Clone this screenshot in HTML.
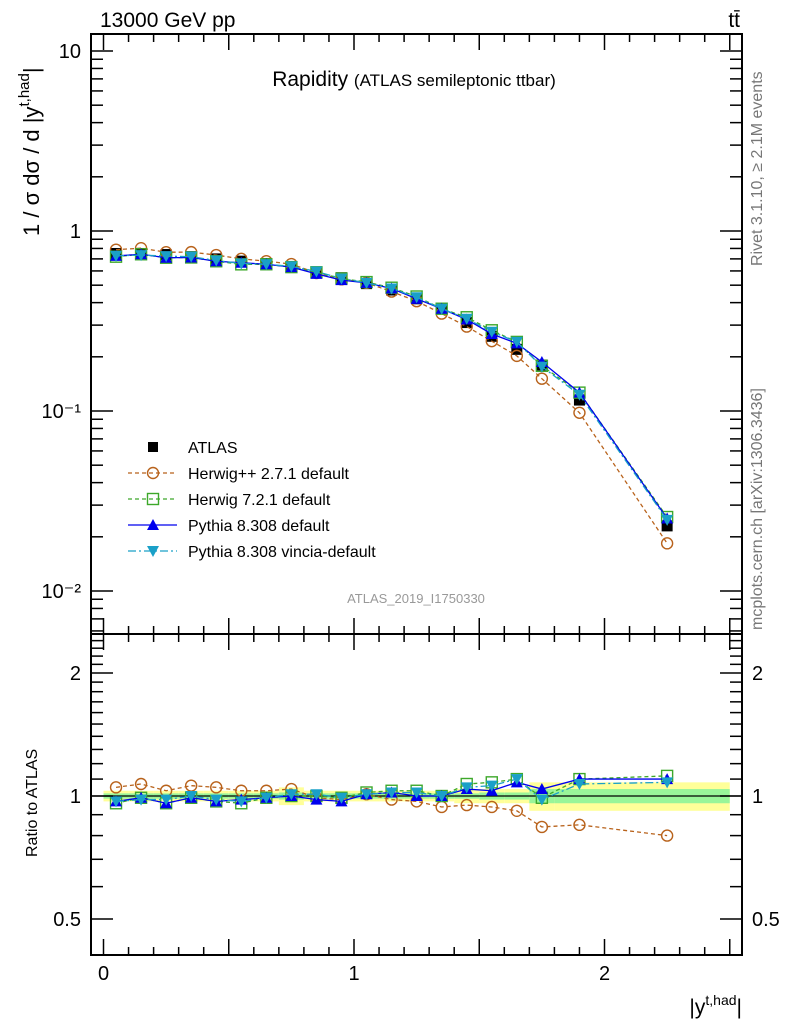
<!DOCTYPE html>
<html><head><meta charset="utf-8">
<style>
html,body{margin:0;padding:0;background:#fff;}
svg{display:block;font-family:"Liberation Sans",Arial,sans-serif;}
</style></head>
<body>
<svg id="chart" width="786" height="1024" viewBox="0 0 786 1024" xmlns="http://www.w3.org/2000/svg">
  <text x="100" y="27" font-size="21">13000 GeV pp</text>
  <text x="740" y="27" font-size="21" text-anchor="end">tt̄</text>
  <text x="414" y="86" font-size="21" text-anchor="middle">Rapidity <tspan font-size="17">(ATLAS semileptonic ttbar)</tspan></text>
  <text x="416" y="603" font-size="13" fill="#999" text-anchor="middle">ATLAS_2019_I1750330</text>
  <text transform="translate(762,266) rotate(-90)" font-size="16" fill="#777">Rivet 3.1.10, ≥ 2.1M events</text>
  <text transform="translate(762,630) rotate(-90)" font-size="16" fill="#777">mcplots.cern.ch [arXiv:1306.3436]</text>
  <text transform="translate(39,236) rotate(-90)" font-size="22">1 / σ dσ / d |y<tspan font-size="15" dy="-10">t,had</tspan><tspan dy="10">|</tspan></text>
  <text transform="translate(37,857) rotate(-90)" font-size="16">Ratio to ATLAS</text>
  <text x="742" y="1014" font-size="21" text-anchor="end">|y<tspan font-size="14" dy="-9">t,had</tspan><tspan dy="9">|</tspan></text>
  <g id="bands"></g>
  <g id="main"></g>
  <g id="ratio"></g>
  <g id="axes"></g>
  <g id="legend"></g>
</svg>
<script>
const binLo = [0,0.1,0.2,0.3,0.4,0.5,0.6,0.7,0.8,0.9,1.0,1.1,1.2,1.3,1.4,1.5,1.6,1.7,1.8,2.0];
const binHi = [0.1,0.2,0.3,0.4,0.5,0.6,0.7,0.8,0.9,1.0,1.1,1.2,1.3,1.4,1.5,1.6,1.7,1.8,2.0,2.5];
const atlas = [0.75,0.75,0.74,0.72,0.70,0.68,0.66,0.63,0.59,0.55,0.51,0.47,0.42,0.37,0.31,0.26,0.22,0.18,0.115,0.023];
const statErr = [0.015,0.015,0.015,0.015,0.015,0.015,0.015,0.02,0.015,0.015,0.015,0.015,0.015,0.015,0.015,0.02,0.02,0.04,0.04,0.04];
const totErr = [0.03,0.03,0.03,0.03,0.03,0.03,0.03,0.05,0.03,0.03,0.03,0.03,0.03,0.03,0.04,0.04,0.04,0.08,0.08,0.08];
const rHpp = [1.05,1.07,1.03,1.06,1.05,1.03,1.03,1.04,0.99,0.98,1.01,0.98,0.97,0.94,0.95,0.94,0.92,0.84,0.85,0.80];
const rH7 = [0.96,0.99,0.96,0.99,0.97,0.96,0.99,1.0,1.0,0.99,1.02,1.03,1.03,1.0,1.07,1.08,1.10,0.99,1.10,1.12];
const rPy = [0.97,0.99,0.96,0.99,0.97,0.98,0.99,1.0,0.98,0.97,1.01,1.02,1.0,1.0,1.04,1.03,1.08,1.04,1.10,1.10];
const rVi = [0.97,0.98,0.98,1.0,0.98,0.97,0.99,1.01,1.01,0.99,1.01,1.02,1.02,1.0,1.05,1.06,1.10,0.98,1.07,1.08];
const xTicks = ["0","1","2"];
const mainTicks = ["10\u207B\u00B2","10\u207B\u00B9","1","10"];
const ratioTicks = ["0.5","1","2"];

const NS="http://www.w3.org/2000/svg";
const L=91,R=742,T=34,MB=634,RB=955;
const X=v=>103.5+v*250.5;
const Y=v=>231-Math.log10(v)*180;
const RY=v=>796-Math.log10(v)*408.6;
function mk(tag,par,at){const e=document.createElementNS(NS,tag);for(const k in at)e.setAttribute(k,at[k]);par.appendChild(e);return e;}
const bands=document.getElementById('bands'),main=document.getElementById('main'),ratio=document.getElementById('ratio'),axes=document.getElementById('axes'),leg=document.getElementById('legend');
const cx=binLo.map((l,i)=>(l+binHi[i])/2);

binLo.forEach((l,i)=>{
  let e=mk('rect',bands,{x:X(l),y:RY(1+totErr[i]),width:X(binHi[i])-X(l),height:RY(1-totErr[i])-RY(1+totErr[i]),fill:'#ffff99'});
  
  
  let g=mk('rect',bands,{x:X(l),y:RY(1+statErr[i]),width:X(binHi[i])-X(l),height:RY(1-statErr[i])-RY(1+statErr[i]),fill:'#99f599'});
  
  
});
let one=mk('line',ratio,{x1:L,x2:R,y1:RY(1),y2:RY(1),stroke:'#000','stroke-width':1.3});



function marker(par,type,x,y,col){
  let e;
  if(type==='sq') e=mk('rect',par,{x:x-5.5,y:y-5.5,width:11,height:11,fill:'#000'});
  else if(type==='circ') e=mk('circle',par,{cx:x,cy:y,r:5.5,fill:'none',stroke:col,'stroke-width':1.4});
  else if(type==='osq') e=mk('rect',par,{x:x-5.5,y:y-5.5,width:11,height:11,fill:'none',stroke:col,'stroke-width':1.4});
  else if(type==='tri') e=mk('path',par,{d:`M${x},${y-6}L${x+6},${y+5}L${x-6},${y+5}Z`,fill:col});
  else e=mk('path',par,{d:`M${x},${y+6}L${x+6},${y-5}L${x-6},${y-5}Z`,fill:col});
  return e;
}
const series=[
  {name:'herwig-pp',r:rHpp,col:'#b8621b',dash:'4,3',m:'circ'},
  {name:'herwig7',r:rH7,col:'#3da82a',dash:'4,3',m:'osq'},
  {name:'pythia',r:rPy,col:'#0000ee',dash:'',m:'tri'},
  {name:'vincia',r:rVi,col:'#1aa0c8',dash:'8,3,2,3',m:'inv'}
];
cx.forEach((c,i)=>{
  let e=marker(main,'sq',X(c),Y(atlas[i]));
  
  
});
series.forEach(s=>{
  const vals=atlas.map((a,i)=>a*s.r[i]);
  let p=mk('polyline',main,{points:cx.map((c,i)=>X(c)+','+Y(vals[i])).join(' '),fill:'none',stroke:s.col,'stroke-width':1.3,'stroke-dasharray':s.dash});
  
  
  let q=mk('polyline',ratio,{points:cx.map((c,i)=>X(c)+','+RY(s.r[i])).join(' '),fill:'none',stroke:s.col,'stroke-width':1.3,'stroke-dasharray':s.dash});
  
  
  cx.forEach((c,i)=>{
    let m=marker(main,s.m,X(c),Y(vals[i]),s.col);
    
    
    let n=marker(ratio,s.m,X(c),RY(s.r[i]),s.col);
    
    
  });
});

[[T,MB],[MB,RB]].forEach(([t,b])=>{
  let f=mk('rect',axes,{x:L,y:t,width:R-L,height:b-t,fill:'none',stroke:'#000','stroke-width':2});
  
  
});
function ln(x1,y1,x2,y2,w){mk('line',axes,{x1,y1,x2,y2,stroke:'#000','stroke-width':w||1.5});}
for(let k=0;k<=25;k++){
  const v=k/10, x=X(v), big=k%5===0, len=big?16:8;
  [[T,1],[MB,-1],[MB,1],[RB,-1]].forEach(([y,d])=>ln(x,y,x,y+d*len));
}
xTicks.forEach(t=>{
  let e=mk('text',axes,{x:X(+t),y:980,'font-size':20,'text-anchor':'middle'});e.textContent=t;
  
  
});
for(let d=-3;d<=1;d++){for(let m=1;m<10;m++){
  const v=m*Math.pow(10,d), y=Y(v); if(y<T||y>MB) continue;
  const len=m===1?22:12; ln(L,y,L+len,y); ln(R,y,R-len,y);
}}
mainTicks.forEach((t,i)=>{
  const v=Math.pow(10,i-2);
  let e=mk('text',axes,{x:81,y:Y(v)+7,'font-size':20,'text-anchor':'end'});e.textContent=t;
  
  
});
[0.4,0.5,0.6,0.7,0.8,0.9,1,1.1,1.2,1.3,1.4,1.5,1.6,1.7,1.8,1.9,2,2.1,2.2,2.3,2.4].forEach(v=>{
  const y=RY(v); if(y<MB||y>RB) return;
  const big=(v===0.5||v===1||v===2), len=big?22:12; ln(L,y,L+len,y); ln(R,y,R-len,y);
});
ratioTicks.forEach(t=>{
  [[81,'end'],[752,'start']].forEach(([x,a])=>{
    let e=mk('text',axes,{x,y:RY(+t)+7,'font-size':20,'text-anchor':a});e.textContent=t;
    
    
  });
});
const legItems=[
  {t:'ATLAS',m:'sq',col:'#000',dash:null},
  {t:'Herwig++ 2.7.1 default',m:'circ',col:'#b8621b',dash:'4,3'},
  {t:'Herwig 7.2.1 default',m:'osq',col:'#3da82a',dash:'4,3'},
  {t:'Pythia 8.308 default',m:'tri',col:'#0000ee',dash:''},
  {t:'Pythia 8.308 vincia-default',m:'inv',col:'#1aa0c8',dash:'8,3,2,3'}
];
legItems.forEach((it,i)=>{
  const y=447+i*26;
  const g=mk('g',leg,{});
  
  
  if(it.dash!==null) mk('line',g,{x1:128,x2:177,y1:y,y2:y,stroke:it.col,'stroke-width':1.3,'stroke-dasharray':it.dash});
  if(it.m==='sq') mk('rect',g,{x:148,y:y-5,width:10,height:10,fill:'#000'}); else marker(g,it.m,153,y,it.col);
  const tx=mk('text',g,{x:188,y:y+6,'font-size':16});tx.textContent=it.t;
});
</script>
</body></html>
